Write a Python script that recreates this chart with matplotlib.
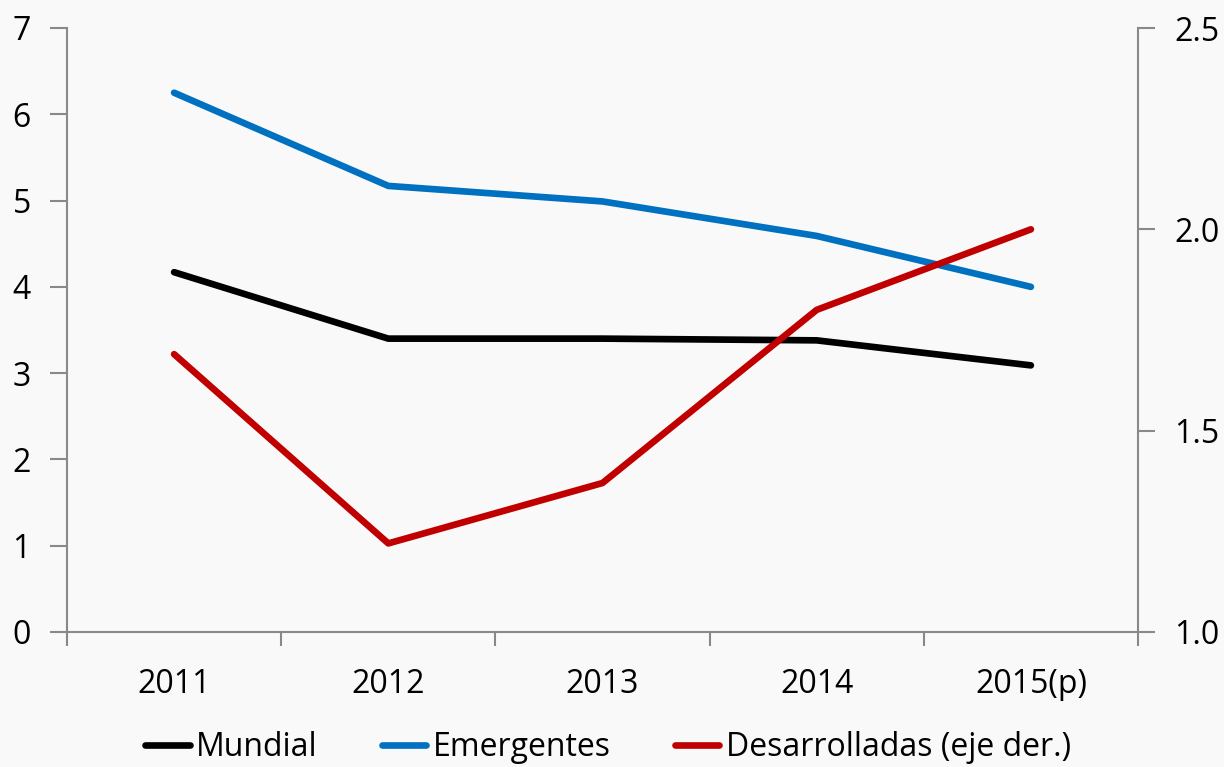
import matplotlib.pyplot as plt
from matplotlib.ticker import FixedLocator

plt.rcParams['font.family'] = ['Open Sans', 'DejaVu Sans']

years = ['2011', '2012', '2013', '2014', '2015(p)']
mundial = [4.17, 3.40, 3.40, 3.38, 3.09]
emergentes = [6.25, 5.17, 4.99, 4.59, 4.00]
desarrolladas = [1.69, 1.22, 1.37, 1.80, 2.00]

bg = '#f9f9f9'
grey = '#898989'
fs = 23

fig = plt.figure(figsize=(12.24, 7.67), dpi=100, facecolor=bg)
ax = fig.add_axes([67/1224, 1 - 632/767, (1138-67)/1224, (632-28)/767])
ax.set_facecolor(bg)
ax2 = ax.twinx()

x = list(range(len(years)))
l1, = ax.plot(x, mundial, color='black', lw=4.8, solid_capstyle='round', label='Mundial')
l2, = ax.plot(x, emergentes, color='#0070c0', lw=4.8, solid_capstyle='round', label='Emergentes')
l3, = ax2.plot(x, desarrolladas, color='#c00000', lw=4.8, solid_capstyle='round', label='Desarrolladas (eje der.)')

ax.set_xlim(-0.5, 4.5)
ax.set_ylim(0, 7)
ax.set_yticks(range(0, 8))
ax2.set_ylim(1.0, 2.5)
ax2.set_yticks([1.0, 1.5, 2.0, 2.5])
ax2.set_yticklabels(['1.0', '1.5', '2.0', '2.5'])

ax.set_xticks(x)
ax.set_xticklabels(years)
ax.xaxis.set_minor_locator(FixedLocator([-0.5, 0.5, 1.5, 2.5, 3.5, 4.5]))
ax.tick_params(axis='x', which='major', length=0, pad=26, labelsize=fs)
ax.tick_params(axis='x', which='minor', length=10, color=grey, width=1.5)
ax.tick_params(axis='y', length=12, color=grey, width=1.5, labelsize=fs, pad=14)
ax2.tick_params(axis='y', length=12, color=grey, width=1.5, labelsize=fs, pad=14)

for a in (ax, ax2):
    a.spines['top'].set_visible(False)
    for s in ('left', 'right', 'bottom'):
        a.spines[s].set_color(grey)
        a.spines[s].set_linewidth(1.5)
ax.spines['right'].set_visible(False)
ax2.spines['left'].set_visible(False)
ax2.spines['bottom'].set_visible(False)

fig.legend(handles=[l1, l2, l3], loc='center', bbox_to_anchor=(608/1224, 1 - 748/767),
           ncol=3, frameon=False, fontsize=fs, handlelength=1.4, handletextpad=0.2,
           columnspacing=2.0)

fig.savefig('out.png', dpi=100, facecolor=bg)
